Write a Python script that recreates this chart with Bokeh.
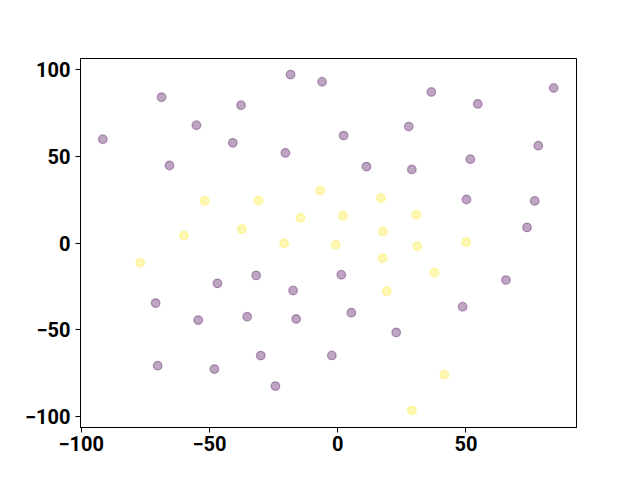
from bokeh.plotting import figure
from bokeh.models import ColumnDataSource, FixedTicker, Range1d
from bokeh.embed import file_html
from bokeh.resources import INLINE

# Purple (class 0) points
purple_x = [-91.6, -68.7, -55.1, -65.6, -37.7, -40.9, -18.4, -20.4, -6.1,
            2.3, 36.5, 54.6, 84.2, 27.7, 78.2, 11.2, 28.9, 51.7, 50.2, 76.8, 73.8,
            -46.9, -31.8, -17.4, -71.0, -54.4, -35.3, -16.2, -30.0, -70.2, -48.1, -24.3, -2.3,
            1.4, 65.6, 5.3, 48.7, 22.8]
purple_y = [60.0, 84.2, 68.1, 44.8, 79.6, 57.9, 97.3, 52.1, 93.2,
            62.1, 87.3, 80.4, 89.6, 67.3, 56.3, 44.2, 42.5, 48.5, 25.2, 24.4, 9.1,
            -23.2, -18.6, -27.3, -34.6, -44.4, -42.5, -43.8, -64.9, -70.7, -72.7, -82.5, -64.8,
            -18.2, -21.3, -40.1, -36.7, -51.5]

# Yellow (class 1) points
yellow_x = [-51.9, -30.9, -6.8, -14.5, -60.0, -37.4, -20.9,
            16.8, 2.1, 30.7, 17.6, -0.8, 31.0, 50.1,
            -77.0, 17.5, 37.7, 19.1, 41.6, 28.9]
yellow_y = [24.4, 24.6, 30.4, 14.6, 4.4, 8.1, 0.0,
            26.0, 15.8, 16.4, 6.8, -0.9, -1.7, 0.6,
            -11.3, -8.7, -16.9, -27.7, -75.9, -96.5]

x_ticks = [-100, -50, 0, 50]
y_ticks = [-100, -50, 0, 50, 100]

p = figure(width=632, height=472, output_backend="svg", toolbar_location=None,
           x_range=Range1d(-100.3, 93.1), y_range=Range1d(-106.4, 106.6),
           min_border_left=80, min_border_right=56, min_border_top=58, min_border_bottom=45,
           frame_width=496, frame_height=369)

p.scatter(x=purple_x, y=purple_y, size=8.6, fill_color="#440154", fill_alpha=0.35,
          line_color="#440154", line_alpha=0.35, line_width=1.3)
p.scatter(x=yellow_x, y=yellow_y, size=8.6, fill_color="#fde725", fill_alpha=0.35,
          line_color="#fde725", line_alpha=0.35, line_width=1.3)

p.xgrid.visible = False
p.ygrid.visible = False
p.outline_line_color = "black"
p.outline_line_width = 1
p.outline_line_alpha = 1.0
p.background_fill_color = "white"
p.border_fill_color = "white"

p.xaxis.ticker = FixedTicker(ticks=x_ticks)
p.yaxis.ticker = FixedTicker(ticks=y_ticks)
for ax in (p.xaxis, p.yaxis):
    ax.major_label_text_font = "Roboto"
    ax.major_label_text_font_style = "bold"
    ax.major_label_text_font_size = "20px"
    ax.major_label_text_color = "black"
    ax.axis_line_color = "black"
    ax.major_tick_line_color = "black"
    ax.major_tick_in = 0
    ax.major_tick_out = 5
    ax.minor_tick_line_color = None
p.xaxis.major_label_standoff = 3
p.yaxis.major_label_standoff = 5

open("out.html", "w").write(file_html(p, INLINE))
